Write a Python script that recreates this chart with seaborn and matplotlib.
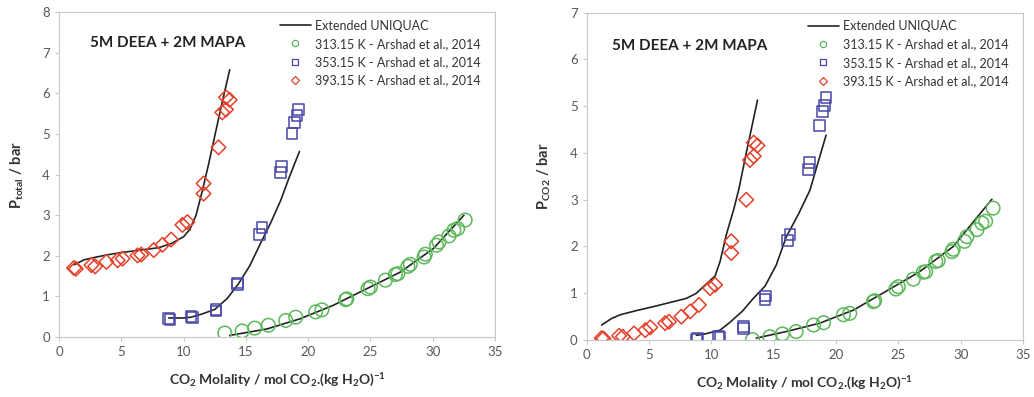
import matplotlib
matplotlib.use("Agg")
import matplotlib.pyplot as plt
from matplotlib.lines import Line2D
import pandas as pd
import seaborn as sns

# ---- experimental data (Arshad et al., 2014), read off the figure ----
# 313.15 K
m_313 = [13.3, 14.7, 15.7, 16.8, 18.2, 19.0, 20.6, 21.1, 23.0, 23.1, 24.8, 25.0,
         26.2, 27.0, 27.2, 28.0, 28.2, 29.3, 29.4, 30.3, 30.5, 31.3, 31.7, 32.0, 32.6]
ptot_313 = [0.10, 0.15, 0.22, 0.29, 0.41, 0.49, 0.62, 0.67, 0.92, 0.94, 1.19, 1.23,
            1.40, 1.54, 1.56, 1.74, 1.79, 1.97, 2.04, 2.26, 2.34, 2.49, 2.63, 2.67, 2.88]
pco2_313 = [0.01, 0.07, 0.13, 0.18, 0.32, 0.37, 0.54, 0.57, 0.82, 0.84, 1.09, 1.14,
            1.30, 1.45, 1.46, 1.68, 1.70, 1.89, 1.94, 2.11, 2.21, 2.36, 2.50, 2.54, 2.82]
# 353.15 K
m_353 = [8.8, 8.9, 10.6, 10.7, 12.6, 12.6, 14.3, 14.35, 16.1, 16.3,
         17.8, 17.85, 18.7, 18.9, 19.1, 19.2]
ptot_353 = [0.45, 0.43, 0.51, 0.48, 0.64, 0.67, 1.29, 1.33, 2.52, 2.69,
            4.05, 4.20, 5.02, 5.29, 5.45, 5.60]
pco2_353 = [0.01, 0.04, 0.07, 0.05, 0.25, 0.29, 0.86, 0.94, 2.12, 2.26,
            3.65, 3.79, 4.59, 4.88, 5.02, 5.18]
# 393.15 K
m_393 = [1.2, 1.35, 2.6, 2.9, 3.8, 4.7, 5.1, 6.3, 6.6, 7.6, 8.3, 9.0, 9.9, 10.3,
         11.6, 11.6, 12.8, 13.1, 13.4, 13.4, 13.7]
ptot_393 = [1.70, 1.68, 1.77, 1.74, 1.85, 1.89, 1.93, 2.01, 2.03, 2.14, 2.27, 2.40,
            2.76, 2.83, 3.53, 3.78, 4.67, 5.53, 5.60, 5.90, 5.84]
pco2_393 = [0.04, 0.03, 0.09, 0.07, 0.14, 0.21, 0.27, 0.36, 0.39, 0.50, 0.61, 0.75,
            1.11, 1.18, 1.86, 2.11, 3.00, 3.85, 3.93, 4.22, 4.16]

# ---- Extended UNIQUAC model curves ----
mod_m_313_tot = [13.7, 16.7, 19.35, 22.0, 24.7, 27.4, 30.05, 32.5]
mod_tot_313 = [0.04, 0.20, 0.45, 0.78, 1.19, 1.60, 2.18, 3.00]
mod_m_353_tot = [8.8, 10.0, 10.6, 11.5, 12.5, 13.5, 14.4, 15.3, 16.1, 17.0, 17.8, 18.5, 19.3]
mod_tot_353 = [0.47, 0.47, 0.49, 0.57, 0.68, 0.95, 1.31, 1.75, 2.26, 2.82, 3.37, 3.95, 4.57]
mod_m_393_tot = [1.2, 2.0, 3.0, 4.0, 5.0, 6.0, 7.0, 8.0, 9.0, 10.0, 10.5, 11.0,
                 11.5, 12.0, 12.5, 13.0, 13.7]
mod_tot_393 = [1.78, 1.90, 1.97, 2.03, 2.08, 2.12, 2.16, 2.20, 2.30, 2.47, 2.65, 3.00,
               3.60, 4.25, 4.95, 5.65, 6.58]

mod_m_313_co2 = [13.6, 16.0, 18.7, 21.4, 24.0, 26.7, 29.4, 32.5]
mod_co2_313 = [0.04, 0.18, 0.36, 0.64, 1.04, 1.46, 2.00, 3.01]
mod_m_353_co2 = [8.8, 9.5, 10.7, 11.5, 12.5, 13.4, 14.3, 15.2, 16.0, 17.0, 17.9, 19.2]
mod_co2_353 = [0.10, 0.13, 0.21, 0.38, 0.62, 0.90, 1.15, 1.60, 2.20, 2.70, 3.20, 4.38]
mod_m_393_co2 = [1.2, 2.0, 2.7, 4.0, 5.3, 6.5, 8.0, 8.8, 9.6, 10.3, 10.7, 11.2,
                 11.8, 12.2, 12.8, 13.7]
mod_co2_393 = [0.32, 0.46, 0.54, 0.63, 0.71, 0.79, 0.89, 1.00, 1.20, 1.37, 1.68, 2.25,
               2.80, 3.22, 4.00, 5.13]

series_labels = ["313.15 K - Arshad et al., 2014",
                 "353.15 K - Arshad et al., 2014",
                 "393.15 K - Arshad et al., 2014"]

GREEN = "#5cb85a"
BLUE = "#4848a8"
RED = "#e5402a"
GREY = "#595959"

sns.set_style("white")
plt.rcParams["font.family"] = ["Lato", "DejaVu Sans"]
plt.rcParams["mathtext.fontset"] = "custom"
plt.rcParams["mathtext.rm"] = "Lato"
plt.rcParams["mathtext.bf"] = "Lato:bold"
plt.rcParams["mathtext.default"] = "regular"

fig = plt.figure(figsize=(10.34, 3.97), dpi=100)
ax1 = fig.add_axes([0.0571, 0.151, 0.4217, 0.8186])
ax2 = fig.add_axes([0.5674, 0.1436, 0.4220, 0.8244])


def draw(ax, exp_y, mod_x, mod_y, ymax, ylabel, text_xy):
    for mx, my in zip(mod_x, mod_y):
        sns.lineplot(x=mx, y=my, ax=ax, color="#222222", lw=1.2, sort=False)
    for mx, my, col, mk, ms in zip([m_313, m_353, m_393], exp_y,
                                   [GREEN, BLUE, RED], ["o", "s", "D"], [95, 60, 55]):
        sns.scatterplot(x=mx, y=my, ax=ax, marker=mk, s=ms, facecolors="none",
                        edgecolors=col, linewidths=1.1, zorder=3)
    ax.set_xlim(0, 35)
    ax.set_ylim(0, ymax)
    ax.set_xticks(range(0, 36, 5))
    ax.set_yticks(range(0, ymax + 1))
    for sp in ax.spines.values():
        sp.set_color("#c8c8c8")
        sp.set_visible(True)
    ax.tick_params(colors=GREY, labelsize=9.5, length=3, width=0.8, direction="out",
                   bottom=True, left=True)
    ax.tick_params(axis="both", color="#c8c8c8")
    ax.set_xlabel(r"CO$_2$ Molality / mol CO$_2$.(kg H$_2$O)$^{-1}$",
                  fontsize=10, fontweight="bold", color="#333333", labelpad=10)
    ax.set_ylabel(ylabel, fontsize=10.5, fontweight="bold", color="#333333", labelpad=12)
    ax.text(text_xy[0], text_xy[1], "5M DEEA + 2M MAPA", fontsize=11,
            fontweight="bold", color="#222222", ha="center", va="center")
    handles = [Line2D([], [], color="#222222", lw=1.2)]
    for col, mk in zip([GREEN, BLUE, RED], ["o", "s", "D"]):
        handles.append(Line2D([], [], ls="none", marker=mk, ms=4.5 if mk != "D" else 4,
                              mfc="none", mec=col, mew=0.9))
    ax.legend(handles, ["Extended UNIQUAC"] + series_labels, loc="upper right",
              bbox_to_anchor=(0.985, 1.0), frameon=False, fontsize=9,
              handlelength=2.5, handletextpad=0.35, labelspacing=0.5,
              labelcolor="#333333", borderaxespad=0.2)


draw(ax1, [ptot_313, ptot_353, ptot_393],
     [mod_m_313_tot, mod_m_353_tot, mod_m_393_tot],
     [mod_tot_313, mod_tot_353, mod_tot_393],
     8, r"P$_{\mathregular{total}}$ / bar", (8.7, 7.25))
draw(ax2, [pco2_313, pco2_353, pco2_393],
     [mod_m_313_co2, mod_m_353_co2, mod_m_393_co2],
     [mod_co2_313, mod_co2_353, mod_co2_393],
     7, r"P$_{\mathregular{CO2}}$ / bar", (8.3, 6.28))

fig.savefig("out.png", dpi=100)
